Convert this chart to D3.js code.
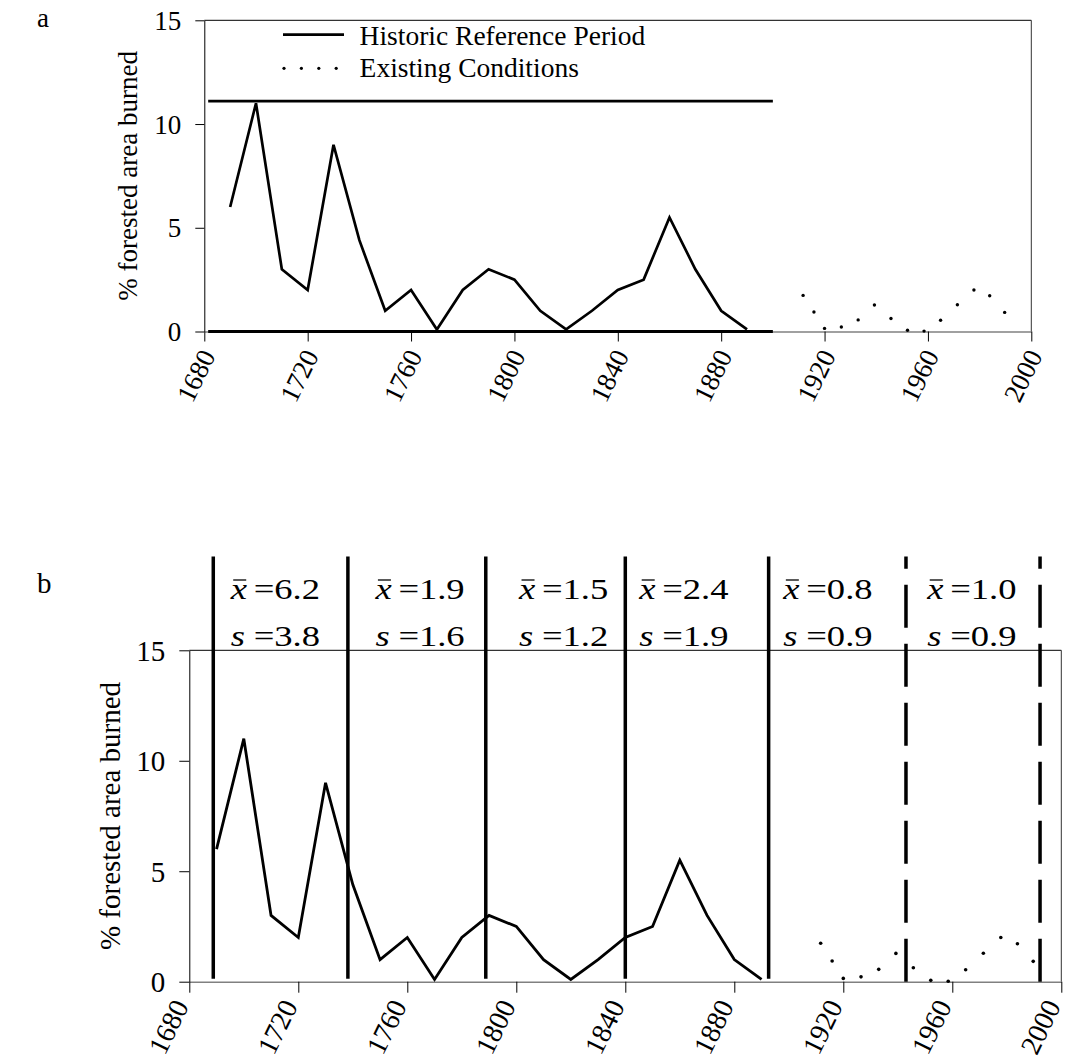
<!DOCTYPE html>
<html>
<head>
<meta charset="utf-8">
<script src="https://cdn.jsdelivr.net/npm/d3@7"></script>
<style>
  html, body { margin: 0; padding: 0; background: #fff; }
  svg text { font-family: "Liberation Serif", "Times New Roman", serif; fill: #000; }
</style>
</head>
<body>
<svg id="chart" width="1070" height="1063"></svg>
<script>
// ---------------- data ----------------
const historicYears = [1690,1700,1710,1720,1730,1740,1750,1760,1770,1780,1790,1800,1810,1820,1830,1840,1850,1860,1870,1880,1890];
const historicValues = [6,11,3,2,9,4.4,1,2,0.1,2,3,2.5,1,0.1,1,2,2.5,5.5,3,1,0.1];
const existingYears = [1911.7,1915.9,1920,1926.5,1933,1939.3,1945.7,1952.1,1958.5,1964.9,1971.4,1977.8,1983.9,1989.7];
const existingValues = [1.74,0.94,0.15,0.22,0.56,1.28,0.63,0.06,0.02,0.54,1.29,2.0,1.72,0.92];
const xTicks = [1680,1720,1760,1800,1840,1880,1920,1960,2000];
const yTicks = [0,5,10,15];
const hrvYears = [1681.5, 1900];
const hrvMax = 11.1;
const hrvMin = 0;
const historicBreaks = [1688.8, 1738.2, 1788.8, 1840, 1892.6];
const existingBreaks = [1943, 1992.2];
const periodMeans = ["6.2","1.9","1.5","2.4","0.8","1.0"];
const periodSDs = ["3.8","1.6","1.2","1.9","0.9","0.9"];
const periodLabelYears = [1695.2,1748.3,1801,1845.1,1898,1950.8];
const legendLabels = ["Historic Reference Period","Existing Conditions"];
const yTitle = "% forested area burned";
const panelLetters = ["a","b"];

const svg = d3.select("#chart");

function drawPanel(cfg) {
  const g = svg.append("g");
  const x = d3.scaleLinear().domain([1680, 2000]).range([cfg.left, cfg.right]);
  const y = d3.scaleLinear().domain([0, 15]).range([cfg.bottom, cfg.top]);

  // frame top and right
  g.append("line").attr("x1", cfg.left).attr("x2", cfg.right).attr("y1", y(15)).attr("y2", y(15))
    .attr("stroke", "#000").attr("stroke-width", 1);
  g.append("line").attr("x1", cfg.right).attr("x2", cfg.right).attr("y1", y(15)).attr("y2", y(0))
    .attr("stroke", "#333").attr("stroke-width", 1);

  // y axis
  const ya = g.append("g").attr("transform", `translate(${cfg.left},0)`)
    .call(d3.axisLeft(y).tickValues(yTicks).tickSize(cfg.tick).tickSizeOuter(0).tickPadding(cfg.ypad));
  ya.select(".domain").attr("stroke", "#000").attr("stroke-width", 1);
  ya.selectAll(".tick line").attr("stroke", "#000").attr("stroke-width", 1);
  ya.selectAll(".tick text").attr("font-size", cfg.fs).attr("font-family", "Liberation Serif").attr("dy", "0.34em");

  // x axis
  const xa = g.append("g").attr("transform", `translate(0,${cfg.bottom})`)
    .call(d3.axisBottom(x).tickValues(xTicks).tickSize(cfg.tick + 1).tickSizeOuter(0).tickFormat(d3.format("d")));
  xa.select(".domain").attr("stroke", "#808080").attr("stroke-width", 1.4);
  xa.selectAll(".tick line").attr("stroke", "#000").attr("stroke-width", 1);
  xa.selectAll(".tick text")
    .attr("font-size", cfg.xfs).attr("font-family", "Liberation Serif")
    .attr("text-anchor", "end").attr("y", 0).attr("dy", "0.34em")
    .attr("transform", `translate(${cfg.lx},${cfg.ly}) rotate(-64)`);

  // y title
  g.append("text")
    .attr("transform", `translate(${cfg.titleX},${(cfg.top + cfg.bottom) / 2}) rotate(-90)`)
    .attr("text-anchor", "middle").attr("font-size", cfg.titleFs).text(yTitle);

  // panel letter
  g.append("text").attr("x", 37).attr("y", cfg.letterY).attr("font-size", cfg.titleFs).text(cfg.letter);

  return {g, x, y};
}

// ---------------- panel a ----------------
const A = drawPanel({left: 204.3, right: 1031.3, top: 20.3, bottom: 331.5, tick: 9, ypad: 14,
  fs: 27, xfs: 27, titleFs: 27, titleX: 137, lx: 3, ly: 20, letter: panelLetters[0], letterY: 27});

// HRV range lines
[hrvMax, hrvMin].forEach(v => {
  A.g.append("line").attr("x1", A.x(hrvYears[0])).attr("x2", A.x(hrvYears[1]))
    .attr("y1", A.y(v)).attr("y2", A.y(v)).attr("stroke", "#000").attr("stroke-width", 2.8);
});

function drawSeries(P, lw, r) {
  const line = d3.line().x((d, i) => P.x(historicYears[i])).y(d => P.y(d));
  P.g.append("path").attr("d", line(historicValues)).attr("fill", "none")
    .attr("stroke", "#000").attr("stroke-width", lw).attr("stroke-linejoin", "miter");
  P.g.selectAll(null).data(existingValues).enter().append("circle")
    .attr("cx", (d, i) => P.x(existingYears[i])).attr("cy", d => P.y(d)).attr("r", r).attr("fill", "#000");
}
drawSeries(A, 2.7, 1.7);

// legend
const leg = A.g.append("g");
leg.append("line").attr("x1", 283).attr("x2", 344).attr("y1", 34.6).attr("y2", 34.6)
  .attr("stroke", "#000").attr("stroke-width", 2.7);
leg.selectAll(null).data(d3.range(4)).enter().append("circle")
  .attr("cx", d => 284 + d * 17.4).attr("cy", 68.3).attr("r", 1.6).attr("fill", "#000");
leg.selectAll(null).data(legendLabels).enter().append("text")
  .attr("x", 359.6).attr("y", (d, i) => 45.3 + i * 32).attr("font-size", 27.5).text(d => d);

// ---------------- panel b ----------------
const B = drawPanel({left: 189.3, right: 1061.3, top: 650.3, bottom: 981.7, tick: 10, ypad: 14,
  fs: 29, xfs: 28, titleFs: 29, titleX: 119.5, lx: -9, ly: 20, letter: panelLetters[1], letterY: 593});

drawSeries(B, 2.8, 1.8);

const vTop = 556.5;
historicBreaks.forEach(yr => {
  B.g.append("line").attr("x1", B.x(yr)).attr("x2", B.x(yr)).attr("y1", vTop).attr("y2", B.y(0) - 3)
    .attr("stroke", "#000").attr("stroke-width", 3.5);
});
existingBreaks.forEach(yr => {
  B.g.append("line").attr("x1", B.x(yr)).attr("x2", B.x(yr)).attr("y1", B.y(0)).attr("y2", vTop)
    .attr("stroke", "#000").attr("stroke-width", 3.5).attr("stroke-dasharray", "43,16");
});

// period statistics
const statFs = 30, sx = 1.22;
periodLabelYears.forEach((yr, i) => {
  const X = B.x(yr);
  [[599, "x", periodMeans[i]], [646, "s", periodSDs[i]]].forEach(([by, sym, val]) => {
    const t = B.g.append("text").attr("transform", `translate(${X},${by}) scale(${sx},1)`)
      .attr("font-size", statFs);
    t.append("tspan").attr("x", 0).attr("font-style", "italic").text(sym);
    t.append("tspan").attr("x", 23 / sx).text("=");
    t.append("tspan").attr("x", 43.5 / sx).text(val);
  });
  B.g.append("line").attr("x1", X + 2.5).attr("x2", X + 15.5).attr("y1", 580).attr("y2", 580)
    .attr("stroke", "#000").attr("stroke-width", 1.3);
});
</script>
</body>
</html>
